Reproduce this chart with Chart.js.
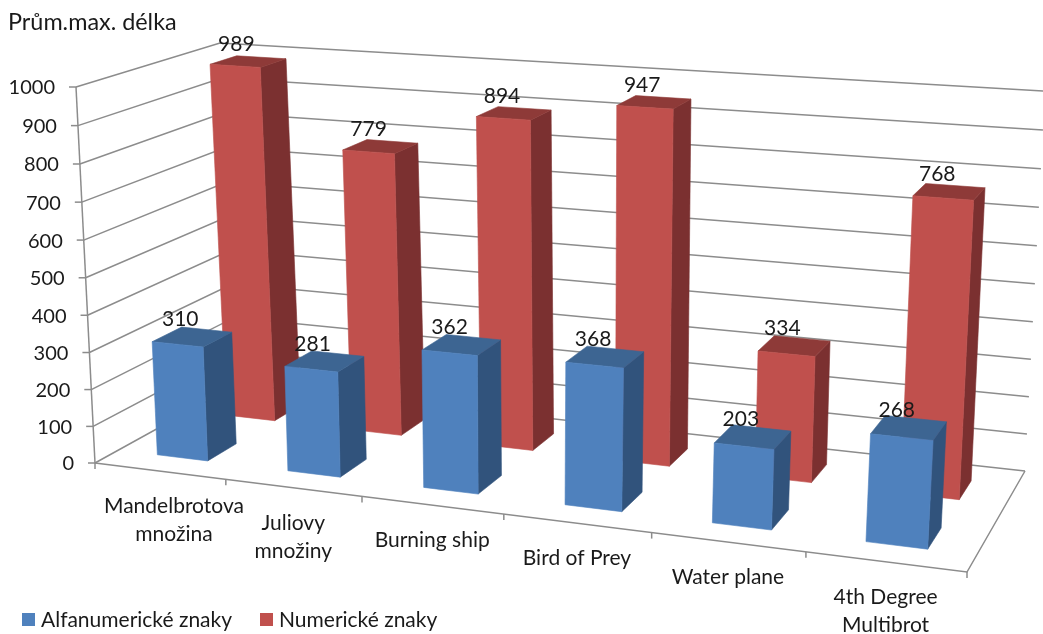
<!DOCTYPE html>
<html>
<head>
<meta charset="utf-8">
<title>Prům.max. délka</title>
<script src="https://cdn.jsdelivr.net/npm/chart.js@4"></script>
<style>
  html, body { margin: 0; padding: 0; background: #fff; }
  #wrap { width: 1043px; height: 634px; }
</style>
</head>
<body>
<div id="wrap"><canvas id="myChart"></canvas></div>
<script>
var categories = [
  ['Mandelbrotova', 'množina'],
  ['Juliovy', 'množiny'],
  ['Burning ship'],
  ['Bird of Prey'],
  ['Water plane'],
  ['4th Degree', 'Multibrot']
];
var alfanumericke = [310, 281, 362, 368, 203, 268];
var numericke = [989, 779, 894, 947, 334, 768];
var seriesNames = ['Alfanumerické znaky', 'Numerické znaky'];
var faceColors = [
  { front: '#4F81BD', side: '#31537C', top: '#3D6592' },
  { front: '#C0504D', side: '#7B3030', top: '#8E3A38' }
];

var FAMILY = 'Lato, "Open Sans", sans-serif';
var NUM_FONT = '20px ' + FAMILY;
var VALUE_FONT = '21px ' + FAMILY;
var TEXT_FONT = '21px ' + FAMILY;
var TEXT = '#1a1a1a';
var GRID = '#8c8c8c';

// box corners on the page: [front-left, front-right, back-right, back-left]
var floorQuad = [[95, 463], [967, 572], [1025, 471], [238, 384]];
var topQuad = [[76, 87], [991, 147.5], [1045, 91], [220, 43]];
// where each series row sits in the depth of the box
var rowCentres = [0.25, 0.735];
var rowDepth = 0.2;

// unit square -> quad
function squareToQuad(q) {
  var dx1 = q[1][0] - q[2][0], dx2 = q[3][0] - q[2][0], sx = q[0][0] - q[1][0] + q[2][0] - q[3][0];
  var dy1 = q[1][1] - q[2][1], dy2 = q[3][1] - q[2][1], sy = q[0][1] - q[1][1] + q[2][1] - q[3][1];
  var den = dx1 * dy2 - dx2 * dy1;
  var g = (sx * dy2 - dx2 * sy) / den, h = (dx1 * sy - sx * dy1) / den;
  return function (u, w) {
    var d = g * u + h * w + 1;
    return [
      ((q[1][0] - q[0][0] + g * q[1][0]) * u + (q[3][0] - q[0][0] + h * q[3][0]) * w + q[0][0]) / d,
      ((q[1][1] - q[0][1] + g * q[1][1]) * u + (q[3][1] - q[0][1] + h * q[3][1]) * w + q[0][1]) / d
    ];
  };
}
var onFloor = squareToQuad(floorQuad);
var onTop = squareToQuad(topQuad);

// u across, v up, w into the depth, all 0..1
function project(u, v, w) {
  var a = onFloor(u, w), b = onTop(u, w);
  var t = v / (1.03 - 0.03 * v);
  return [a[0] + (b[0] - a[0]) * t, a[1] + (b[1] - a[1]) * t];
}

function poly(ctx, pts, color) {
  ctx.beginPath();
  pts.forEach(function (p, i) { i ? ctx.lineTo(p[0], p[1]) : ctx.moveTo(p[0], p[1]); });
  ctx.closePath();
  ctx.fillStyle = color;
  ctx.strokeStyle = color;
  ctx.lineWidth = 0.6;
  ctx.fill();
  ctx.stroke();
}

function line(ctx, pts) {
  ctx.beginPath();
  pts.forEach(function (p, i) { i ? ctx.lineTo(p[0], p[1]) : ctx.moveTo(p[0], p[1]); });
  ctx.stroke();
}

function drawFrame(chart) {
  var ctx = chart.ctx, yScale = chart.scales.y, xScale = chart.scales.x, area = chart.chartArea;
  ctx.save();
  ctx.strokeStyle = GRID;
  ctx.lineWidth = 1.5;
  ctx.font = NUM_FONT;
  ctx.fillStyle = TEXT;

  // gridlines run along the side wall and the back wall
  ctx.textAlign = 'right';
  ctx.textBaseline = 'middle';
  yScale.ticks.forEach(function (tick) {
    var v = (area.bottom - yScale.getPixelForValue(tick.value)) / area.height;
    var p = project(0, v, 0);
    line(ctx, [p, project(0, v, 1), project(1, v, 1)]);
    line(ctx, [[p[0] - 7, p[1]], p]);
    ctx.fillText(String(tick.value), p[0] - 21, p[1] + 1);
  });
  line(ctx, [project(0, 0, 0), project(0, 1, 0)]);
  line(ctx, [project(0, 0, 0), project(1, 0, 0), project(1, 0, 1)]);

  // category ticks on the front edge
  var n = categories.length;
  for (var i = 0; i <= n; i++) {
    var p = project(i / n, 0, 0);
    line(ctx, [p, [p[0], p[1] + 6]]);
  }

  ctx.font = TEXT_FONT;
  ctx.textAlign = 'center';
  categories.forEach(function (lines, i) {
    var u = (xScale.getPixelForValue(i) - area.left) / area.width;
    var p = project(u, 0, 0);
    var halfWidth = Math.max.apply(null, lines.map(function (s) { return ctx.measureText(s).width; })) / 2;
    // long labels get pushed clear of the value axis
    var x = Math.max(p[0], 104 + halfWidth);
    lines.forEach(function (s, j) {
      ctx.fillText(s, x, p[1] + 35 + j * 28);
    });
  });
  ctx.restore();
}

function drawBars(chart) {
  var ctx = chart.ctx, area = chart.chartArea;
  var count = chart.data.datasets.length;
  var labels = [];

  // back row first so the front row covers it
  for (var d = count - 1; d >= 0; d--) {
    var meta = chart.getDatasetMeta(d);
    var wc = rowCentres[d];
    meta.data.forEach(function (bar, i) {
      var uc = (bar.x - area.left) / area.width;
      var hw = bar.width / 2 / area.width;
      var v = (area.bottom - bar.y) / area.height;
      var u0 = uc - hw, u1 = uc + hw, w0 = wc - rowDepth / 2, w1 = wc + rowDepth / 2;
      var c = faceColors[d];
      poly(ctx, [project(u1, 0, w0), project(u1, 0, w1), project(u1, v, w1), project(u1, v, w0)], c.side);
      poly(ctx, [project(u0, v, w0), project(u1, v, w0), project(u1, v, w1), project(u0, v, w1)], c.top);
      poly(ctx, [project(u0, 0, w0), project(u1, 0, w0), project(u1, v, w0), project(u0, v, w0)], c.front);
      labels.push({ at: project(uc, v, wc), text: chart.data.datasets[d].data[i] });
    });
  }

  // value labels go on top of every bar
  ctx.save();
  ctx.font = VALUE_FONT;
  ctx.fillStyle = TEXT;
  ctx.textAlign = 'center';
  ctx.textBaseline = 'middle';
  labels.forEach(function (l) {
    ctx.fillText(l.text, l.at[0] - 12, l.at[1] - 17.5);
  });
  ctx.restore();
}

function drawLegend(chart) {
  var ctx = chart.ctx;
  var boxX = [22, 260];
  ctx.save();
  ctx.font = TEXT_FONT;
  ctx.textAlign = 'left';
  ctx.textBaseline = 'middle';
  chart.data.datasets.forEach(function (ds, i) {
    ctx.fillStyle = ds.backgroundColor;
    ctx.fillRect(boxX[i], 613, 13, 13);
    ctx.fillStyle = TEXT;
    ctx.fillText(ds.label, boxX[i] + 19, 620);
  });
  ctx.restore();
}

var perspectiveBars = {
  id: 'perspectiveBars',
  beforeDatasetsDraw: function (chart) {
    drawFrame(chart);
    drawBars(chart);
    drawLegend(chart);
    return false;
  }
};

var myChart = new Chart(document.getElementById('myChart').getContext('2d'), {
  type: 'bar',
  data: {
    labels: categories,
    datasets: [
      { label: seriesNames[0], data: alfanumericke, backgroundColor: faceColors[0].front },
      { label: seriesNames[1], data: numericke, backgroundColor: faceColors[1].front }
    ]
  },
  plugins: [perspectiveBars],
  options: {
    responsive: true,
    maintainAspectRatio: false,
    animation: false,
    layout: { padding: { left: 8, top: 8 } },
    datasets: { bar: { grouped: false, categoryPercentage: 0.39, barPercentage: 1 } },
    plugins: {
      legend: { display: false },
      tooltip: { enabled: false },
      title: {
        display: true,
        text: 'Prům.max. délka',
        align: 'start',
        color: TEXT,
        font: { family: FAMILY, size: 23.4, weight: 'normal' },
        padding: { top: 0, bottom: 10 }
      }
    },
    scales: {
      x: { display: false },
      y: { display: false, min: 0, max: 1000, ticks: { stepSize: 100 } }
    }
  }
});
</script>
</body>
</html>
